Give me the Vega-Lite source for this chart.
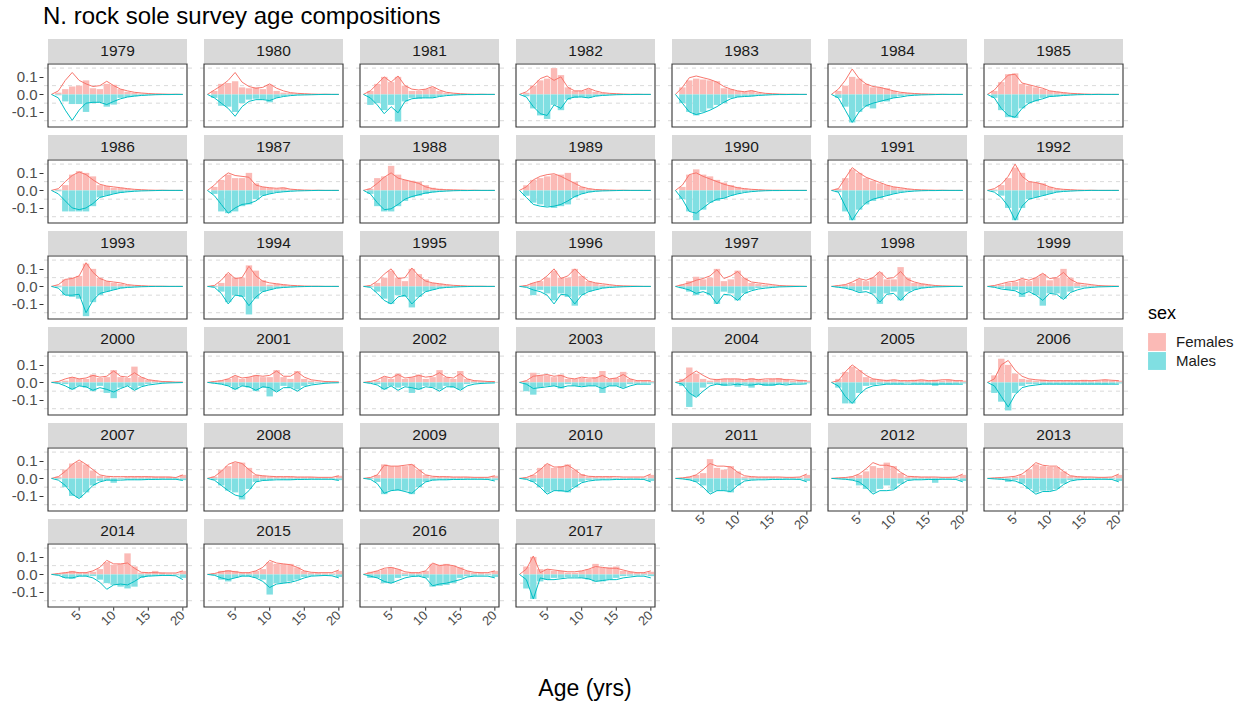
{
"$schema":"https://vega.github.io/schema/vega-lite/v6.json",
"background":"white",
"padding":{"left":11,"top":5,"right":5,"bottom":5},
"bounds":"flush",
"title":{"text":"N. rock sole survey age compositions","anchor":"start","frame":"group","fontSize":24,"fontWeight":"normal","color":"#000000","offset":9},
"data":{"values":[
{"yr":1979,"a":1,"F":0,"M":0,"pf":0,"pm":0},
{"yr":1979,"a":2,"F":0.01,"M":-0.005,"pf":0.02,"pm":-0.02},
{"yr":1979,"a":3,"F":0.03,"M":-0.04,"pf":0.08,"pm":-0.09},
{"yr":1979,"a":4,"F":0.045,"M":-0.055,"pf":0.125,"pm":-0.148},
{"yr":1979,"a":5,"F":0.05,"M":-0.055,"pf":0.08,"pm":-0.09},
{"yr":1979,"a":6,"F":0.08,"M":-0.1,"pf":0.06,"pm":-0.05},
{"yr":1979,"a":7,"F":0.035,"M":-0.05,"pf":0.045,"pm":-0.045},
{"yr":1979,"a":8,"F":0.03,"M":-0.045,"pf":0.05,"pm":-0.045},
{"yr":1979,"a":9,"F":0.06,"M":-0.07,"pf":0.075,"pm":-0.058},
{"yr":1979,"a":10,"F":0.055,"M":-0.058,"pf":0.05,"pm":-0.04},
{"yr":1979,"a":11,"F":0.03,"M":-0.02,"pf":0.03,"pm":-0.025},
{"yr":1979,"a":12,"F":0.015,"M":-0.015,"pf":0.02,"pm":-0.015},
{"yr":1979,"a":13,"F":0.01,"M":-0.01,"pf":0.012,"pm":-0.01},
{"yr":1979,"a":14,"F":0.005,"M":-0.005,"pf":0.008,"pm":-0.006},
{"yr":1979,"a":15,"F":0.004,"M":-0.003,"pf":0.005,"pm":-0.004},
{"yr":1979,"a":16,"F":0.002,"M":-0.002,"pf":0.003,"pm":-0.002},
{"yr":1979,"a":17,"F":0.001,"M":-0.001,"pf":0.002,"pm":-0.001},
{"yr":1979,"a":18,"F":0.001,"M":0,"pf":0.001,"pm":-0.001},
{"yr":1979,"a":19,"F":0,"M":0,"pf":0.001,"pm":0},
{"yr":1979,"a":20,"F":0,"M":0,"pf":0,"pm":0},
{"yr":1980,"a":1,"F":0,"M":0,"pf":0,"pm":0},
{"yr":1980,"a":2,"F":0.02,"M":-0.02,"pf":0.025,"pm":-0.02},
{"yr":1980,"a":3,"F":0.06,"M":-0.065,"pf":0.05,"pm":-0.05},
{"yr":1980,"a":4,"F":0.065,"M":-0.07,"pf":0.08,"pm":-0.08},
{"yr":1980,"a":5,"F":0.075,"M":-0.1,"pf":0.125,"pm":-0.125},
{"yr":1980,"a":6,"F":0.04,"M":-0.05,"pf":0.07,"pm":-0.07},
{"yr":1980,"a":7,"F":0.035,"M":-0.03,"pf":0.045,"pm":-0.04},
{"yr":1980,"a":8,"F":0.04,"M":-0.025,"pf":0.035,"pm":-0.03},
{"yr":1980,"a":9,"F":0.03,"M":-0.03,"pf":0.04,"pm":-0.03},
{"yr":1980,"a":10,"F":0.055,"M":-0.045,"pf":0.06,"pm":-0.035},
{"yr":1980,"a":11,"F":0.02,"M":-0.02,"pf":0.035,"pm":-0.02},
{"yr":1980,"a":12,"F":0.01,"M":-0.01,"pf":0.02,"pm":-0.012},
{"yr":1980,"a":13,"F":0.008,"M":-0.005,"pf":0.01,"pm":-0.007},
{"yr":1980,"a":14,"F":0.005,"M":-0.003,"pf":0.006,"pm":-0.004},
{"yr":1980,"a":15,"F":0.003,"M":-0.002,"pf":0.004,"pm":-0.003},
{"yr":1980,"a":16,"F":0.002,"M":-0.001,"pf":0.002,"pm":-0.002},
{"yr":1980,"a":17,"F":0.001,"M":0,"pf":0.001,"pm":-0.001},
{"yr":1980,"a":18,"F":0,"M":0,"pf":0.001,"pm":0},
{"yr":1980,"a":19,"F":0,"M":0,"pf":0,"pm":0},
{"yr":1980,"a":20,"F":0,"M":0,"pf":0,"pm":0},
{"yr":1981,"a":1,"F":0,"M":0,"pf":0,"pm":0},
{"yr":1981,"a":2,"F":0.02,"M":-0.06,"pf":0.02,"pm":-0.02},
{"yr":1981,"a":3,"F":0.06,"M":-0.05,"pf":0.06,"pm":-0.06},
{"yr":1981,"a":4,"F":0.1,"M":-0.09,"pf":0.1,"pm":-0.11},
{"yr":1981,"a":5,"F":0.07,"M":-0.06,"pf":0.07,"pm":-0.07},
{"yr":1981,"a":6,"F":0.1,"M":-0.155,"pf":0.105,"pm":-0.105},
{"yr":1981,"a":7,"F":0.05,"M":-0.04,"pf":0.05,"pm":-0.04},
{"yr":1981,"a":8,"F":0.02,"M":-0.02,"pf":0.03,"pm":-0.025},
{"yr":1981,"a":9,"F":0.02,"M":-0.025,"pf":0.025,"pm":-0.02},
{"yr":1981,"a":10,"F":0.03,"M":-0.02,"pf":0.03,"pm":-0.02},
{"yr":1981,"a":11,"F":0.04,"M":-0.02,"pf":0.045,"pm":-0.02},
{"yr":1981,"a":12,"F":0.02,"M":-0.01,"pf":0.025,"pm":-0.012},
{"yr":1981,"a":13,"F":0.01,"M":-0.005,"pf":0.012,"pm":-0.007},
{"yr":1981,"a":14,"F":0.005,"M":-0.003,"pf":0.007,"pm":-0.004},
{"yr":1981,"a":15,"F":0.003,"M":-0.002,"pf":0.004,"pm":-0.002},
{"yr":1981,"a":16,"F":0.002,"M":-0.001,"pf":0.002,"pm":-0.001},
{"yr":1981,"a":17,"F":0.001,"M":0,"pf":0.001,"pm":-0.001},
{"yr":1981,"a":18,"F":0,"M":0,"pf":0.001,"pm":0},
{"yr":1981,"a":19,"F":0,"M":0,"pf":0,"pm":0},
{"yr":1981,"a":20,"F":0,"M":0,"pf":0,"pm":0},
{"yr":1982,"a":1,"F":0,"M":0,"pf":0,"pm":0},
{"yr":1982,"a":2,"F":0.01,"M":-0.01,"pf":0.015,"pm":-0.015},
{"yr":1982,"a":3,"F":0.05,"M":-0.08,"pf":0.05,"pm":-0.07},
{"yr":1982,"a":4,"F":0.08,"M":-0.12,"pf":0.09,"pm":-0.11},
{"yr":1982,"a":5,"F":0.09,"M":-0.14,"pf":0.105,"pm":-0.12},
{"yr":1982,"a":6,"F":0.15,"M":-0.06,"pf":0.08,"pm":-0.06},
{"yr":1982,"a":7,"F":0.11,"M":-0.09,"pf":0.1,"pm":-0.08},
{"yr":1982,"a":8,"F":0.04,"M":-0.03,"pf":0.04,"pm":-0.025},
{"yr":1982,"a":9,"F":0.02,"M":-0.02,"pf":0.02,"pm":-0.015},
{"yr":1982,"a":10,"F":0.02,"M":-0.015,"pf":0.02,"pm":-0.015},
{"yr":1982,"a":11,"F":0.03,"M":-0.02,"pf":0.035,"pm":-0.02},
{"yr":1982,"a":12,"F":0.015,"M":-0.01,"pf":0.02,"pm":-0.01},
{"yr":1982,"a":13,"F":0.008,"M":-0.005,"pf":0.01,"pm":-0.006},
{"yr":1982,"a":14,"F":0.005,"M":-0.003,"pf":0.006,"pm":-0.004},
{"yr":1982,"a":15,"F":0.003,"M":-0.002,"pf":0.004,"pm":-0.002},
{"yr":1982,"a":16,"F":0.002,"M":-0.001,"pf":0.002,"pm":-0.001},
{"yr":1982,"a":17,"F":0.001,"M":0,"pf":0.001,"pm":-0.001},
{"yr":1982,"a":18,"F":0,"M":0,"pf":0.001,"pm":0},
{"yr":1982,"a":19,"F":0,"M":0,"pf":0,"pm":0},
{"yr":1982,"a":20,"F":0,"M":0,"pf":0,"pm":0},
{"yr":1983,"a":1,"F":0,"M":0,"pf":0,"pm":0},
{"yr":1983,"a":2,"F":0.04,"M":-0.05,"pf":0.04,"pm":-0.05},
{"yr":1983,"a":3,"F":0.08,"M":-0.1,"pf":0.095,"pm":-0.1},
{"yr":1983,"a":4,"F":0.09,"M":-0.12,"pf":0.105,"pm":-0.115},
{"yr":1983,"a":5,"F":0.085,"M":-0.1,"pf":0.095,"pm":-0.105},
{"yr":1983,"a":6,"F":0.08,"M":-0.08,"pf":0.085,"pm":-0.09},
{"yr":1983,"a":7,"F":0.075,"M":-0.06,"pf":0.07,"pm":-0.07},
{"yr":1983,"a":8,"F":0.035,"M":-0.05,"pf":0.045,"pm":-0.045},
{"yr":1983,"a":9,"F":0.03,"M":-0.02,"pf":0.03,"pm":-0.025},
{"yr":1983,"a":10,"F":0.02,"M":-0.015,"pf":0.02,"pm":-0.015},
{"yr":1983,"a":11,"F":0.015,"M":-0.01,"pf":0.015,"pm":-0.012},
{"yr":1983,"a":12,"F":0.02,"M":-0.01,"pf":0.022,"pm":-0.01},
{"yr":1983,"a":13,"F":0.01,"M":-0.005,"pf":0.012,"pm":-0.006},
{"yr":1983,"a":14,"F":0.005,"M":-0.003,"pf":0.006,"pm":-0.004},
{"yr":1983,"a":15,"F":0.003,"M":-0.002,"pf":0.004,"pm":-0.002},
{"yr":1983,"a":16,"F":0.002,"M":-0.001,"pf":0.002,"pm":-0.001},
{"yr":1983,"a":17,"F":0.001,"M":0,"pf":0.001,"pm":-0.001},
{"yr":1983,"a":18,"F":0,"M":0,"pf":0.001,"pm":0},
{"yr":1983,"a":19,"F":0,"M":0,"pf":0,"pm":0},
{"yr":1983,"a":20,"F":0,"M":0,"pf":0,"pm":0},
{"yr":1984,"a":1,"F":0,"M":0,"pf":0,"pm":0},
{"yr":1984,"a":2,"F":0.02,"M":-0.02,"pf":0.03,"pm":-0.02},
{"yr":1984,"a":3,"F":0.05,"M":-0.07,"pf":0.08,"pm":-0.09},
{"yr":1984,"a":4,"F":0.1,"M":-0.16,"pf":0.145,"pm":-0.16},
{"yr":1984,"a":5,"F":0.09,"M":-0.1,"pf":0.09,"pm":-0.1},
{"yr":1984,"a":6,"F":0.06,"M":-0.07,"pf":0.06,"pm":-0.065},
{"yr":1984,"a":7,"F":0.04,"M":-0.08,"pf":0.045,"pm":-0.05},
{"yr":1984,"a":8,"F":0.04,"M":-0.04,"pf":0.04,"pm":-0.04},
{"yr":1984,"a":9,"F":0.035,"M":-0.04,"pf":0.03,"pm":-0.03},
{"yr":1984,"a":10,"F":0.02,"M":-0.02,"pf":0.02,"pm":-0.02},
{"yr":1984,"a":11,"F":0.01,"M":-0.01,"pf":0.012,"pm":-0.015},
{"yr":1984,"a":12,"F":0.008,"M":-0.006,"pf":0.008,"pm":-0.008},
{"yr":1984,"a":13,"F":0.005,"M":-0.004,"pf":0.005,"pm":-0.005},
{"yr":1984,"a":14,"F":0.003,"M":-0.002,"pf":0.003,"pm":-0.003},
{"yr":1984,"a":15,"F":0.002,"M":-0.001,"pf":0.002,"pm":-0.002},
{"yr":1984,"a":16,"F":0.001,"M":0,"pf":0.001,"pm":-0.001},
{"yr":1984,"a":17,"F":0,"M":0,"pf":0.001,"pm":0},
{"yr":1984,"a":18,"F":0,"M":0,"pf":0,"pm":0},
{"yr":1984,"a":19,"F":0,"M":0,"pf":0,"pm":0},
{"yr":1984,"a":20,"F":0,"M":0,"pf":0,"pm":0},
{"yr":1985,"a":1,"F":0,"M":0,"pf":0,"pm":0},
{"yr":1985,"a":2,"F":0.02,"M":-0.02,"pf":0.025,"pm":-0.02},
{"yr":1985,"a":3,"F":0.07,"M":-0.09,"pf":0.07,"pm":-0.08},
{"yr":1985,"a":4,"F":0.115,"M":-0.13,"pf":0.11,"pm":-0.12},
{"yr":1985,"a":5,"F":0.12,"M":-0.135,"pf":0.115,"pm":-0.13},
{"yr":1985,"a":6,"F":0.06,"M":-0.08,"pf":0.065,"pm":-0.08},
{"yr":1985,"a":7,"F":0.05,"M":-0.05,"pf":0.055,"pm":-0.05},
{"yr":1985,"a":8,"F":0.04,"M":-0.04,"pf":0.045,"pm":-0.035},
{"yr":1985,"a":9,"F":0.03,"M":-0.02,"pf":0.035,"pm":-0.025},
{"yr":1985,"a":10,"F":0.02,"M":-0.015,"pf":0.02,"pm":-0.012},
{"yr":1985,"a":11,"F":0.015,"M":-0.01,"pf":0.015,"pm":-0.01},
{"yr":1985,"a":12,"F":0.01,"M":-0.006,"pf":0.01,"pm":-0.006},
{"yr":1985,"a":13,"F":0.006,"M":-0.003,"pf":0.006,"pm":-0.004},
{"yr":1985,"a":14,"F":0.004,"M":-0.002,"pf":0.004,"pm":-0.002},
{"yr":1985,"a":15,"F":0.002,"M":-0.001,"pf":0.002,"pm":-0.001},
{"yr":1985,"a":16,"F":0.001,"M":0,"pf":0.001,"pm":-0.001},
{"yr":1985,"a":17,"F":0,"M":0,"pf":0.001,"pm":0},
{"yr":1985,"a":18,"F":0,"M":0,"pf":0,"pm":0},
{"yr":1985,"a":19,"F":0,"M":0,"pf":0,"pm":0},
{"yr":1985,"a":20,"F":0,"M":0,"pf":0,"pm":0},
{"yr":1986,"a":1,"F":0,"M":0,"pf":0,"pm":0},
{"yr":1986,"a":2,"F":0.005,"M":-0.005,"pf":0.01,"pm":-0.02},
{"yr":1986,"a":3,"F":0.03,"M":-0.12,"pf":0.05,"pm":-0.06},
{"yr":1986,"a":4,"F":0.09,"M":-0.12,"pf":0.085,"pm":-0.1},
{"yr":1986,"a":5,"F":0.11,"M":-0.12,"pf":0.105,"pm":-0.11},
{"yr":1986,"a":6,"F":0.1,"M":-0.12,"pf":0.09,"pm":-0.1},
{"yr":1986,"a":7,"F":0.08,"M":-0.09,"pf":0.06,"pm":-0.075},
{"yr":1986,"a":8,"F":0.03,"M":-0.04,"pf":0.035,"pm":-0.04},
{"yr":1986,"a":9,"F":0.025,"M":-0.03,"pf":0.025,"pm":-0.03},
{"yr":1986,"a":10,"F":0.015,"M":-0.02,"pf":0.02,"pm":-0.02},
{"yr":1986,"a":11,"F":0.015,"M":-0.015,"pf":0.015,"pm":-0.012},
{"yr":1986,"a":12,"F":0.01,"M":-0.008,"pf":0.01,"pm":-0.008},
{"yr":1986,"a":13,"F":0.005,"M":-0.004,"pf":0.006,"pm":-0.005},
{"yr":1986,"a":14,"F":0.003,"M":-0.002,"pf":0.004,"pm":-0.003},
{"yr":1986,"a":15,"F":0.002,"M":-0.001,"pf":0.002,"pm":-0.002},
{"yr":1986,"a":16,"F":0.001,"M":0,"pf":0.001,"pm":-0.001},
{"yr":1986,"a":17,"F":0,"M":0,"pf":0.001,"pm":0},
{"yr":1986,"a":18,"F":0,"M":0,"pf":0,"pm":0},
{"yr":1986,"a":19,"F":0,"M":0,"pf":0,"pm":0},
{"yr":1986,"a":20,"F":0,"M":0,"pf":0,"pm":0},
{"yr":1987,"a":1,"F":0,"M":0,"pf":0,"pm":0},
{"yr":1987,"a":2,"F":0.02,"M":-0.02,"pf":0.03,"pm":-0.03},
{"yr":1987,"a":3,"F":0.06,"M":-0.12,"pf":0.07,"pm":-0.08},
{"yr":1987,"a":4,"F":0.09,"M":-0.13,"pf":0.1,"pm":-0.13},
{"yr":1987,"a":5,"F":0.07,"M":-0.12,"pf":0.085,"pm":-0.1},
{"yr":1987,"a":6,"F":0.07,"M":-0.09,"pf":0.08,"pm":-0.08},
{"yr":1987,"a":7,"F":0.1,"M":-0.08,"pf":0.075,"pm":-0.075},
{"yr":1987,"a":8,"F":0.04,"M":-0.05,"pf":0.03,"pm":-0.06},
{"yr":1987,"a":9,"F":0.02,"M":-0.03,"pf":0.02,"pm":-0.03},
{"yr":1987,"a":10,"F":0.015,"M":-0.02,"pf":0.015,"pm":-0.02},
{"yr":1987,"a":11,"F":0.01,"M":-0.01,"pf":0.012,"pm":-0.012},
{"yr":1987,"a":12,"F":0.015,"M":-0.008,"pf":0.015,"pm":-0.008},
{"yr":1987,"a":13,"F":0.006,"M":-0.004,"pf":0.007,"pm":-0.005},
{"yr":1987,"a":14,"F":0.004,"M":-0.002,"pf":0.004,"pm":-0.003},
{"yr":1987,"a":15,"F":0.002,"M":-0.001,"pf":0.002,"pm":-0.002},
{"yr":1987,"a":16,"F":0.001,"M":0,"pf":0.001,"pm":-0.001},
{"yr":1987,"a":17,"F":0,"M":0,"pf":0.001,"pm":0},
{"yr":1987,"a":18,"F":0,"M":0,"pf":0,"pm":0},
{"yr":1987,"a":19,"F":0,"M":0,"pf":0,"pm":0},
{"yr":1987,"a":20,"F":0,"M":0,"pf":0,"pm":0},
{"yr":1988,"a":1,"F":0,"M":0,"pf":0,"pm":0},
{"yr":1988,"a":2,"F":0.01,"M":-0.02,"pf":0.01,"pm":-0.02},
{"yr":1988,"a":3,"F":0.07,"M":-0.09,"pf":0.04,"pm":-0.07},
{"yr":1988,"a":4,"F":0.08,"M":-0.12,"pf":0.075,"pm":-0.11},
{"yr":1988,"a":5,"F":0.14,"M":-0.12,"pf":0.1,"pm":-0.105},
{"yr":1988,"a":6,"F":0.09,"M":-0.09,"pf":0.07,"pm":-0.08},
{"yr":1988,"a":7,"F":0.06,"M":-0.06,"pf":0.06,"pm":-0.05},
{"yr":1988,"a":8,"F":0.055,"M":-0.04,"pf":0.05,"pm":-0.035},
{"yr":1988,"a":9,"F":0.05,"M":-0.03,"pf":0.04,"pm":-0.025},
{"yr":1988,"a":10,"F":0.03,"M":-0.02,"pf":0.02,"pm":-0.015},
{"yr":1988,"a":11,"F":0.015,"M":-0.01,"pf":0.01,"pm":-0.01},
{"yr":1988,"a":12,"F":0.01,"M":-0.006,"pf":0.005,"pm":-0.006},
{"yr":1988,"a":13,"F":0.005,"M":-0.003,"pf":0.004,"pm":-0.004},
{"yr":1988,"a":14,"F":0.003,"M":-0.002,"pf":0.003,"pm":-0.002},
{"yr":1988,"a":15,"F":0.002,"M":-0.001,"pf":0.002,"pm":-0.001},
{"yr":1988,"a":16,"F":0.001,"M":0,"pf":0.001,"pm":-0.001},
{"yr":1988,"a":17,"F":0,"M":0,"pf":0.001,"pm":0},
{"yr":1988,"a":18,"F":0,"M":0,"pf":0,"pm":0},
{"yr":1988,"a":19,"F":0,"M":0,"pf":0,"pm":0},
{"yr":1988,"a":20,"F":0,"M":0,"pf":0,"pm":0},
{"yr":1989,"a":1,"F":0,"M":0,"pf":0,"pm":0},
{"yr":1989,"a":2,"F":0.03,"M":-0.03,"pf":0.02,"pm":-0.04},
{"yr":1989,"a":3,"F":0.06,"M":-0.07,"pf":0.06,"pm":-0.08},
{"yr":1989,"a":4,"F":0.07,"M":-0.08,"pf":0.08,"pm":-0.09},
{"yr":1989,"a":5,"F":0.08,"M":-0.09,"pf":0.09,"pm":-0.095},
{"yr":1989,"a":6,"F":0.09,"M":-0.1,"pf":0.095,"pm":-0.09},
{"yr":1989,"a":7,"F":0.09,"M":-0.09,"pf":0.08,"pm":-0.08},
{"yr":1989,"a":8,"F":0.1,"M":-0.08,"pf":0.06,"pm":-0.06},
{"yr":1989,"a":9,"F":0.05,"M":-0.04,"pf":0.04,"pm":-0.035},
{"yr":1989,"a":10,"F":0.02,"M":-0.02,"pf":0.02,"pm":-0.02},
{"yr":1989,"a":11,"F":0.01,"M":-0.01,"pf":0.01,"pm":-0.01},
{"yr":1989,"a":12,"F":0.006,"M":-0.005,"pf":0.005,"pm":-0.005},
{"yr":1989,"a":13,"F":0.004,"M":-0.003,"pf":0.003,"pm":-0.003},
{"yr":1989,"a":14,"F":0.002,"M":-0.002,"pf":0.002,"pm":-0.002},
{"yr":1989,"a":15,"F":0.001,"M":-0.001,"pf":0.001,"pm":-0.001},
{"yr":1989,"a":16,"F":0,"M":0,"pf":0.001,"pm":0},
{"yr":1989,"a":17,"F":0,"M":0,"pf":0,"pm":0},
{"yr":1989,"a":18,"F":0,"M":0,"pf":0,"pm":0},
{"yr":1989,"a":19,"F":0,"M":0,"pf":0,"pm":0},
{"yr":1989,"a":20,"F":0,"M":0,"pf":0,"pm":0},
{"yr":1990,"a":1,"F":0,"M":0,"pf":0,"pm":0},
{"yr":1990,"a":2,"F":0.02,"M":-0.05,"pf":0.03,"pm":-0.05},
{"yr":1990,"a":3,"F":0.09,"M":-0.12,"pf":0.09,"pm":-0.12},
{"yr":1990,"a":4,"F":0.12,"M":-0.17,"pf":0.1,"pm":-0.13},
{"yr":1990,"a":5,"F":0.09,"M":-0.11,"pf":0.08,"pm":-0.1},
{"yr":1990,"a":6,"F":0.08,"M":-0.07,"pf":0.065,"pm":-0.07},
{"yr":1990,"a":7,"F":0.06,"M":-0.06,"pf":0.05,"pm":-0.05},
{"yr":1990,"a":8,"F":0.045,"M":-0.045,"pf":0.035,"pm":-0.045},
{"yr":1990,"a":9,"F":0.03,"M":-0.03,"pf":0.025,"pm":-0.03},
{"yr":1990,"a":10,"F":0.02,"M":-0.02,"pf":0.015,"pm":-0.02},
{"yr":1990,"a":11,"F":0.01,"M":-0.01,"pf":0.01,"pm":-0.012},
{"yr":1990,"a":12,"F":0.006,"M":-0.006,"pf":0.006,"pm":-0.007},
{"yr":1990,"a":13,"F":0.004,"M":-0.003,"pf":0.004,"pm":-0.004},
{"yr":1990,"a":14,"F":0.002,"M":-0.002,"pf":0.002,"pm":-0.002},
{"yr":1990,"a":15,"F":0.001,"M":-0.001,"pf":0.001,"pm":-0.001},
{"yr":1990,"a":16,"F":0,"M":0,"pf":0.001,"pm":-0.001},
{"yr":1990,"a":17,"F":0,"M":0,"pf":0,"pm":0},
{"yr":1990,"a":18,"F":0,"M":0,"pf":0,"pm":0},
{"yr":1990,"a":19,"F":0,"M":0,"pf":0,"pm":0},
{"yr":1990,"a":20,"F":0,"M":0,"pf":0,"pm":0},
{"yr":1991,"a":1,"F":0,"M":0,"pf":0,"pm":0},
{"yr":1991,"a":2,"F":0.01,"M":-0.01,"pf":0.01,"pm":-0.01},
{"yr":1991,"a":3,"F":0.07,"M":-0.12,"pf":0.07,"pm":-0.09},
{"yr":1991,"a":4,"F":0.12,"M":-0.17,"pf":0.13,"pm":-0.17},
{"yr":1991,"a":5,"F":0.1,"M":-0.11,"pf":0.1,"pm":-0.11},
{"yr":1991,"a":6,"F":0.07,"M":-0.08,"pf":0.075,"pm":-0.07},
{"yr":1991,"a":7,"F":0.055,"M":-0.06,"pf":0.06,"pm":-0.05},
{"yr":1991,"a":8,"F":0.04,"M":-0.045,"pf":0.045,"pm":-0.04},
{"yr":1991,"a":9,"F":0.03,"M":-0.03,"pf":0.03,"pm":-0.03},
{"yr":1991,"a":10,"F":0.02,"M":-0.02,"pf":0.02,"pm":-0.02},
{"yr":1991,"a":11,"F":0.012,"M":-0.01,"pf":0.015,"pm":-0.012},
{"yr":1991,"a":12,"F":0.008,"M":-0.006,"pf":0.009,"pm":-0.007},
{"yr":1991,"a":13,"F":0.005,"M":-0.003,"pf":0.005,"pm":-0.004},
{"yr":1991,"a":14,"F":0.003,"M":-0.002,"pf":0.003,"pm":-0.002},
{"yr":1991,"a":15,"F":0.002,"M":-0.001,"pf":0.002,"pm":-0.001},
{"yr":1991,"a":16,"F":0.001,"M":0,"pf":0.001,"pm":-0.001},
{"yr":1991,"a":17,"F":0,"M":0,"pf":0.001,"pm":0},
{"yr":1991,"a":18,"F":0,"M":0,"pf":0,"pm":0},
{"yr":1991,"a":19,"F":0,"M":0,"pf":0,"pm":0},
{"yr":1991,"a":20,"F":0,"M":0,"pf":0,"pm":0},
{"yr":1992,"a":1,"F":0,"M":0,"pf":0,"pm":0},
{"yr":1992,"a":2,"F":0.005,"M":-0.005,"pf":0.01,"pm":-0.01},
{"yr":1992,"a":3,"F":0.03,"M":-0.03,"pf":0.035,"pm":-0.04},
{"yr":1992,"a":4,"F":0.07,"M":-0.1,"pf":0.08,"pm":-0.09},
{"yr":1992,"a":5,"F":0.13,"M":-0.17,"pf":0.15,"pm":-0.17},
{"yr":1992,"a":6,"F":0.1,"M":-0.1,"pf":0.08,"pm":-0.09},
{"yr":1992,"a":7,"F":0.05,"M":-0.05,"pf":0.05,"pm":-0.05},
{"yr":1992,"a":8,"F":0.045,"M":-0.04,"pf":0.045,"pm":-0.04},
{"yr":1992,"a":9,"F":0.04,"M":-0.03,"pf":0.035,"pm":-0.03},
{"yr":1992,"a":10,"F":0.02,"M":-0.02,"pf":0.02,"pm":-0.02},
{"yr":1992,"a":11,"F":0.01,"M":-0.01,"pf":0.01,"pm":-0.01},
{"yr":1992,"a":12,"F":0.006,"M":-0.005,"pf":0.006,"pm":-0.006},
{"yr":1992,"a":13,"F":0.004,"M":-0.003,"pf":0.004,"pm":-0.004},
{"yr":1992,"a":14,"F":0.002,"M":-0.002,"pf":0.002,"pm":-0.002},
{"yr":1992,"a":15,"F":0.001,"M":-0.001,"pf":0.001,"pm":-0.001},
{"yr":1992,"a":16,"F":0,"M":0,"pf":0.001,"pm":0},
{"yr":1992,"a":17,"F":0,"M":0,"pf":0,"pm":0},
{"yr":1992,"a":18,"F":0,"M":0,"pf":0,"pm":0},
{"yr":1992,"a":19,"F":0,"M":0,"pf":0,"pm":0},
{"yr":1992,"a":20,"F":0,"M":0,"pf":0,"pm":0},
{"yr":1993,"a":1,"F":0,"M":0,"pf":0,"pm":0},
{"yr":1993,"a":2,"F":0.005,"M":-0.005,"pf":0.01,"pm":-0.01},
{"yr":1993,"a":3,"F":0.04,"M":-0.05,"pf":0.04,"pm":-0.05},
{"yr":1993,"a":4,"F":0.05,"M":-0.06,"pf":0.045,"pm":-0.05},
{"yr":1993,"a":5,"F":0.06,"M":-0.07,"pf":0.06,"pm":-0.045},
{"yr":1993,"a":6,"F":0.13,"M":-0.17,"pf":0.135,"pm":-0.15},
{"yr":1993,"a":7,"F":0.1,"M":-0.09,"pf":0.08,"pm":-0.08},
{"yr":1993,"a":8,"F":0.05,"M":-0.05,"pf":0.045,"pm":-0.04},
{"yr":1993,"a":9,"F":0.03,"M":-0.03,"pf":0.03,"pm":-0.03},
{"yr":1993,"a":10,"F":0.02,"M":-0.02,"pf":0.025,"pm":-0.02},
{"yr":1993,"a":11,"F":0.015,"M":-0.01,"pf":0.02,"pm":-0.01},
{"yr":1993,"a":12,"F":0.008,"M":-0.005,"pf":0.01,"pm":-0.006},
{"yr":1993,"a":13,"F":0.005,"M":-0.003,"pf":0.006,"pm":-0.004},
{"yr":1993,"a":14,"F":0.003,"M":-0.002,"pf":0.004,"pm":-0.002},
{"yr":1993,"a":15,"F":0.002,"M":-0.001,"pf":0.002,"pm":-0.001},
{"yr":1993,"a":16,"F":0.001,"M":0,"pf":0.001,"pm":0},
{"yr":1993,"a":17,"F":0,"M":0,"pf":0.001,"pm":0},
{"yr":1993,"a":18,"F":0,"M":0,"pf":0,"pm":0},
{"yr":1993,"a":19,"F":0,"M":0,"pf":0,"pm":0},
{"yr":1993,"a":20,"F":0,"M":0,"pf":0,"pm":0},
{"yr":1994,"a":1,"F":0,"M":0,"pf":0,"pm":0},
{"yr":1994,"a":2,"F":0.005,"M":-0.005,"pf":0.005,"pm":-0.005},
{"yr":1994,"a":3,"F":0.02,"M":-0.03,"pf":0.035,"pm":-0.04},
{"yr":1994,"a":4,"F":0.07,"M":-0.09,"pf":0.08,"pm":-0.1},
{"yr":1994,"a":5,"F":0.05,"M":-0.05,"pf":0.045,"pm":-0.05},
{"yr":1994,"a":6,"F":0.05,"M":-0.06,"pf":0.05,"pm":-0.055},
{"yr":1994,"a":7,"F":0.12,"M":-0.16,"pf":0.115,"pm":-0.11},
{"yr":1994,"a":8,"F":0.09,"M":-0.07,"pf":0.06,"pm":-0.06},
{"yr":1994,"a":9,"F":0.035,"M":-0.03,"pf":0.03,"pm":-0.03},
{"yr":1994,"a":10,"F":0.01,"M":-0.02,"pf":0.02,"pm":-0.02},
{"yr":1994,"a":11,"F":0.015,"M":-0.01,"pf":0.015,"pm":-0.01},
{"yr":1994,"a":12,"F":0.01,"M":-0.006,"pf":0.01,"pm":-0.006},
{"yr":1994,"a":13,"F":0.005,"M":-0.003,"pf":0.006,"pm":-0.004},
{"yr":1994,"a":14,"F":0.003,"M":-0.002,"pf":0.004,"pm":-0.002},
{"yr":1994,"a":15,"F":0.002,"M":-0.001,"pf":0.002,"pm":-0.001},
{"yr":1994,"a":16,"F":0.001,"M":0,"pf":0.001,"pm":0},
{"yr":1994,"a":17,"F":0,"M":0,"pf":0.001,"pm":0},
{"yr":1994,"a":18,"F":0,"M":0,"pf":0,"pm":0},
{"yr":1994,"a":19,"F":0,"M":0,"pf":0,"pm":0},
{"yr":1994,"a":20,"F":0,"M":0,"pf":0,"pm":0},
{"yr":1995,"a":1,"F":0,"M":0,"pf":0,"pm":0},
{"yr":1995,"a":2,"F":0.005,"M":-0.005,"pf":0.005,"pm":-0.005},
{"yr":1995,"a":3,"F":0.02,"M":-0.03,"pf":0.03,"pm":-0.04},
{"yr":1995,"a":4,"F":0.05,"M":-0.07,"pf":0.07,"pm":-0.08},
{"yr":1995,"a":5,"F":0.09,"M":-0.1,"pf":0.1,"pm":-0.1},
{"yr":1995,"a":6,"F":0.05,"M":-0.05,"pf":0.045,"pm":-0.06},
{"yr":1995,"a":7,"F":0.03,"M":-0.06,"pf":0.05,"pm":-0.05},
{"yr":1995,"a":8,"F":0.1,"M":-0.12,"pf":0.105,"pm":-0.1},
{"yr":1995,"a":9,"F":0.07,"M":-0.06,"pf":0.06,"pm":-0.06},
{"yr":1995,"a":10,"F":0.04,"M":-0.03,"pf":0.03,"pm":-0.03},
{"yr":1995,"a":11,"F":0.02,"M":-0.02,"pf":0.02,"pm":-0.02},
{"yr":1995,"a":12,"F":0.015,"M":-0.01,"pf":0.015,"pm":-0.01},
{"yr":1995,"a":13,"F":0.008,"M":-0.005,"pf":0.01,"pm":-0.006},
{"yr":1995,"a":14,"F":0.005,"M":-0.003,"pf":0.006,"pm":-0.004},
{"yr":1995,"a":15,"F":0.003,"M":-0.002,"pf":0.004,"pm":-0.002},
{"yr":1995,"a":16,"F":0.002,"M":-0.001,"pf":0.002,"pm":-0.001},
{"yr":1995,"a":17,"F":0.001,"M":0,"pf":0.001,"pm":0},
{"yr":1995,"a":18,"F":0,"M":0,"pf":0.001,"pm":0},
{"yr":1995,"a":19,"F":0,"M":0,"pf":0,"pm":0},
{"yr":1995,"a":20,"F":0,"M":0,"pf":0,"pm":0},
{"yr":1996,"a":1,"F":0,"M":0,"pf":0,"pm":0},
{"yr":1996,"a":2,"F":0.005,"M":-0.005,"pf":0.005,"pm":-0.005},
{"yr":1996,"a":3,"F":0.02,"M":-0.05,"pf":0.02,"pm":-0.02},
{"yr":1996,"a":4,"F":0.03,"M":-0.02,"pf":0.03,"pm":-0.03},
{"yr":1996,"a":5,"F":0.05,"M":-0.04,"pf":0.06,"pm":-0.05},
{"yr":1996,"a":6,"F":0.09,"M":-0.08,"pf":0.1,"pm":-0.1},
{"yr":1996,"a":7,"F":0.05,"M":-0.04,"pf":0.045,"pm":-0.045},
{"yr":1996,"a":8,"F":0.05,"M":-0.06,"pf":0.06,"pm":-0.05},
{"yr":1996,"a":9,"F":0.1,"M":-0.11,"pf":0.1,"pm":-0.1},
{"yr":1996,"a":10,"F":0.06,"M":-0.05,"pf":0.06,"pm":-0.05},
{"yr":1996,"a":11,"F":0.03,"M":-0.03,"pf":0.03,"pm":-0.03},
{"yr":1996,"a":12,"F":0.02,"M":-0.02,"pf":0.02,"pm":-0.02},
{"yr":1996,"a":13,"F":0.01,"M":-0.01,"pf":0.015,"pm":-0.01},
{"yr":1996,"a":14,"F":0.006,"M":-0.005,"pf":0.01,"pm":-0.006},
{"yr":1996,"a":15,"F":0.004,"M":-0.003,"pf":0.005,"pm":-0.004},
{"yr":1996,"a":16,"F":0.002,"M":-0.002,"pf":0.003,"pm":-0.002},
{"yr":1996,"a":17,"F":0.001,"M":-0.001,"pf":0.002,"pm":-0.001},
{"yr":1996,"a":18,"F":0,"M":0,"pf":0.001,"pm":0},
{"yr":1996,"a":19,"F":0,"M":0,"pf":0,"pm":0},
{"yr":1996,"a":20,"F":0,"M":0,"pf":0,"pm":0},
{"yr":1997,"a":1,"F":0,"M":0,"pf":0,"pm":0},
{"yr":1997,"a":2,"F":0.01,"M":-0.01,"pf":0.01,"pm":-0.01},
{"yr":1997,"a":3,"F":0.03,"M":-0.03,"pf":0.02,"pm":-0.02},
{"yr":1997,"a":4,"F":0.055,"M":-0.05,"pf":0.035,"pm":-0.04},
{"yr":1997,"a":5,"F":0.04,"M":-0.02,"pf":0.045,"pm":-0.03},
{"yr":1997,"a":6,"F":0.05,"M":-0.05,"pf":0.06,"pm":-0.045},
{"yr":1997,"a":7,"F":0.1,"M":-0.1,"pf":0.095,"pm":-0.1},
{"yr":1997,"a":8,"F":0.03,"M":-0.03,"pf":0.045,"pm":-0.045},
{"yr":1997,"a":9,"F":0.04,"M":-0.04,"pf":0.06,"pm":-0.05},
{"yr":1997,"a":10,"F":0.09,"M":-0.08,"pf":0.085,"pm":-0.08},
{"yr":1997,"a":11,"F":0.05,"M":-0.04,"pf":0.045,"pm":-0.04},
{"yr":1997,"a":12,"F":0.02,"M":-0.02,"pf":0.025,"pm":-0.025},
{"yr":1997,"a":13,"F":0.015,"M":-0.01,"pf":0.02,"pm":-0.015},
{"yr":1997,"a":14,"F":0.01,"M":-0.006,"pf":0.015,"pm":-0.01},
{"yr":1997,"a":15,"F":0.006,"M":-0.004,"pf":0.01,"pm":-0.006},
{"yr":1997,"a":16,"F":0.003,"M":-0.002,"pf":0.005,"pm":-0.003},
{"yr":1997,"a":17,"F":0.002,"M":-0.001,"pf":0.003,"pm":-0.002},
{"yr":1997,"a":18,"F":0.001,"M":0,"pf":0.002,"pm":-0.001},
{"yr":1997,"a":19,"F":0,"M":0,"pf":0.001,"pm":0},
{"yr":1997,"a":20,"F":0,"M":0,"pf":0,"pm":0},
{"yr":1998,"a":1,"F":0,"M":0,"pf":0,"pm":0},
{"yr":1998,"a":2,"F":0.005,"M":-0.005,"pf":0.005,"pm":-0.005},
{"yr":1998,"a":3,"F":0.01,"M":-0.01,"pf":0.01,"pm":-0.01},
{"yr":1998,"a":4,"F":0.02,"M":-0.02,"pf":0.025,"pm":-0.02},
{"yr":1998,"a":5,"F":0.04,"M":-0.03,"pf":0.045,"pm":-0.035},
{"yr":1998,"a":6,"F":0.03,"M":-0.02,"pf":0.035,"pm":-0.03},
{"yr":1998,"a":7,"F":0.05,"M":-0.04,"pf":0.05,"pm":-0.045},
{"yr":1998,"a":8,"F":0.08,"M":-0.1,"pf":0.085,"pm":-0.09},
{"yr":1998,"a":9,"F":0.04,"M":-0.04,"pf":0.045,"pm":-0.045},
{"yr":1998,"a":10,"F":0.04,"M":-0.03,"pf":0.05,"pm":-0.04},
{"yr":1998,"a":11,"F":0.11,"M":-0.08,"pf":0.085,"pm":-0.08},
{"yr":1998,"a":12,"F":0.05,"M":-0.03,"pf":0.04,"pm":-0.04},
{"yr":1998,"a":13,"F":0.02,"M":-0.02,"pf":0.025,"pm":-0.02},
{"yr":1998,"a":14,"F":0.015,"M":-0.01,"pf":0.015,"pm":-0.01},
{"yr":1998,"a":15,"F":0.008,"M":-0.005,"pf":0.01,"pm":-0.006},
{"yr":1998,"a":16,"F":0.004,"M":-0.003,"pf":0.005,"pm":-0.003},
{"yr":1998,"a":17,"F":0.002,"M":-0.002,"pf":0.003,"pm":-0.002},
{"yr":1998,"a":18,"F":0.001,"M":0,"pf":0.002,"pm":-0.001},
{"yr":1998,"a":19,"F":0,"M":0,"pf":0.001,"pm":0},
{"yr":1998,"a":20,"F":0,"M":0,"pf":0,"pm":0},
{"yr":1999,"a":1,"F":0,"M":0,"pf":0,"pm":0},
{"yr":1999,"a":2,"F":0.005,"M":-0.005,"pf":0.005,"pm":-0.005},
{"yr":1999,"a":3,"F":0.01,"M":-0.01,"pf":0.015,"pm":-0.015},
{"yr":1999,"a":4,"F":0.02,"M":-0.02,"pf":0.025,"pm":-0.02},
{"yr":1999,"a":5,"F":0.025,"M":-0.02,"pf":0.03,"pm":-0.025},
{"yr":1999,"a":6,"F":0.04,"M":-0.06,"pf":0.045,"pm":-0.045},
{"yr":1999,"a":7,"F":0.03,"M":-0.03,"pf":0.035,"pm":-0.03},
{"yr":1999,"a":8,"F":0.05,"M":-0.05,"pf":0.05,"pm":-0.05},
{"yr":1999,"a":9,"F":0.07,"M":-0.11,"pf":0.075,"pm":-0.08},
{"yr":1999,"a":10,"F":0.035,"M":-0.04,"pf":0.045,"pm":-0.04},
{"yr":1999,"a":11,"F":0.05,"M":-0.04,"pf":0.05,"pm":-0.045},
{"yr":1999,"a":12,"F":0.1,"M":-0.07,"pf":0.08,"pm":-0.075},
{"yr":1999,"a":13,"F":0.05,"M":-0.03,"pf":0.04,"pm":-0.035},
{"yr":1999,"a":14,"F":0.02,"M":-0.01,"pf":0.02,"pm":-0.02},
{"yr":1999,"a":15,"F":0.01,"M":-0.006,"pf":0.015,"pm":-0.01},
{"yr":1999,"a":16,"F":0.006,"M":-0.003,"pf":0.01,"pm":-0.006},
{"yr":1999,"a":17,"F":0.003,"M":-0.002,"pf":0.005,"pm":-0.003},
{"yr":1999,"a":18,"F":0.002,"M":-0.001,"pf":0.003,"pm":-0.002},
{"yr":1999,"a":19,"F":0.001,"M":0,"pf":0.002,"pm":-0.001},
{"yr":1999,"a":20,"F":0,"M":0,"pf":0.001,"pm":0},
{"yr":2000,"a":1,"F":0,"M":0,"pf":0,"pm":0},
{"yr":2000,"a":2,"F":0.005,"M":-0.005,"pf":0.005,"pm":-0.005},
{"yr":2000,"a":3,"F":0.01,"M":-0.01,"pf":0.02,"pm":-0.02},
{"yr":2000,"a":4,"F":0.03,"M":-0.04,"pf":0.03,"pm":-0.04},
{"yr":2000,"a":5,"F":0.02,"M":-0.02,"pf":0.02,"pm":-0.02},
{"yr":2000,"a":6,"F":0.02,"M":-0.03,"pf":0.025,"pm":-0.025},
{"yr":2000,"a":7,"F":0.045,"M":-0.05,"pf":0.04,"pm":-0.045},
{"yr":2000,"a":8,"F":0.025,"M":-0.02,"pf":0.03,"pm":-0.03},
{"yr":2000,"a":9,"F":0.03,"M":-0.06,"pf":0.035,"pm":-0.04},
{"yr":2000,"a":10,"F":0.07,"M":-0.09,"pf":0.065,"pm":-0.055},
{"yr":2000,"a":11,"F":0.03,"M":-0.03,"pf":0.035,"pm":-0.035},
{"yr":2000,"a":12,"F":0.025,"M":-0.02,"pf":0.03,"pm":-0.02},
{"yr":2000,"a":13,"F":0.09,"M":-0.04,"pf":0.055,"pm":-0.045},
{"yr":2000,"a":14,"F":0.03,"M":-0.02,"pf":0.03,"pm":-0.025},
{"yr":2000,"a":15,"F":0.015,"M":-0.01,"pf":0.015,"pm":-0.015},
{"yr":2000,"a":16,"F":0.01,"M":-0.005,"pf":0.01,"pm":-0.01},
{"yr":2000,"a":17,"F":0.005,"M":-0.003,"pf":0.005,"pm":-0.005},
{"yr":2000,"a":18,"F":0.003,"M":-0.002,"pf":0.004,"pm":-0.003},
{"yr":2000,"a":19,"F":0.002,"M":-0.001,"pf":0.002,"pm":-0.002},
{"yr":2000,"a":20,"F":0.001,"M":0,"pf":0.002,"pm":-0.001},
{"yr":2001,"a":1,"F":0,"M":0,"pf":0,"pm":0},
{"yr":2001,"a":2,"F":0.005,"M":-0.005,"pf":0.005,"pm":-0.005},
{"yr":2001,"a":3,"F":0.01,"M":-0.01,"pf":0.01,"pm":-0.01},
{"yr":2001,"a":4,"F":0.02,"M":-0.02,"pf":0.02,"pm":-0.02},
{"yr":2001,"a":5,"F":0.035,"M":-0.04,"pf":0.04,"pm":-0.04},
{"yr":2001,"a":6,"F":0.02,"M":-0.02,"pf":0.025,"pm":-0.02},
{"yr":2001,"a":7,"F":0.03,"M":-0.03,"pf":0.03,"pm":-0.025},
{"yr":2001,"a":8,"F":0.04,"M":-0.05,"pf":0.04,"pm":-0.045},
{"yr":2001,"a":9,"F":0.03,"M":-0.03,"pf":0.035,"pm":-0.025},
{"yr":2001,"a":10,"F":0.03,"M":-0.08,"pf":0.04,"pm":-0.03},
{"yr":2001,"a":11,"F":0.07,"M":-0.05,"pf":0.065,"pm":-0.055},
{"yr":2001,"a":12,"F":0.03,"M":-0.02,"pf":0.035,"pm":-0.03},
{"yr":2001,"a":13,"F":0.02,"M":-0.03,"pf":0.035,"pm":-0.03},
{"yr":2001,"a":14,"F":0.065,"M":-0.04,"pf":0.06,"pm":-0.05},
{"yr":2001,"a":15,"F":0.02,"M":-0.02,"pf":0.03,"pm":-0.025},
{"yr":2001,"a":16,"F":0.01,"M":-0.01,"pf":0.015,"pm":-0.015},
{"yr":2001,"a":17,"F":0.005,"M":-0.005,"pf":0.01,"pm":-0.01},
{"yr":2001,"a":18,"F":0.003,"M":-0.003,"pf":0.005,"pm":-0.005},
{"yr":2001,"a":19,"F":0.002,"M":-0.002,"pf":0.004,"pm":-0.003},
{"yr":2001,"a":20,"F":0.001,"M":-0.001,"pf":0.003,"pm":-0.002},
{"yr":2002,"a":1,"F":0,"M":0,"pf":0,"pm":0},
{"yr":2002,"a":2,"F":0.005,"M":-0.005,"pf":0.005,"pm":-0.005},
{"yr":2002,"a":3,"F":0.01,"M":-0.01,"pf":0.015,"pm":-0.015},
{"yr":2002,"a":4,"F":0.03,"M":-0.04,"pf":0.035,"pm":-0.04},
{"yr":2002,"a":5,"F":0.02,"M":-0.02,"pf":0.025,"pm":-0.02},
{"yr":2002,"a":6,"F":0.05,"M":-0.03,"pf":0.045,"pm":-0.045},
{"yr":2002,"a":7,"F":0.02,"M":-0.02,"pf":0.025,"pm":-0.025},
{"yr":2002,"a":8,"F":0.03,"M":-0.06,"pf":0.03,"pm":-0.03},
{"yr":2002,"a":9,"F":0.045,"M":-0.04,"pf":0.04,"pm":-0.04},
{"yr":2002,"a":10,"F":0.02,"M":-0.02,"pf":0.03,"pm":-0.025},
{"yr":2002,"a":11,"F":0.03,"M":-0.03,"pf":0.035,"pm":-0.03},
{"yr":2002,"a":12,"F":0.07,"M":-0.04,"pf":0.055,"pm":-0.05},
{"yr":2002,"a":13,"F":0.03,"M":-0.02,"pf":0.03,"pm":-0.025},
{"yr":2002,"a":14,"F":0.02,"M":-0.03,"pf":0.025,"pm":-0.025},
{"yr":2002,"a":15,"F":0.065,"M":-0.04,"pf":0.05,"pm":-0.045},
{"yr":2002,"a":16,"F":0.02,"M":-0.01,"pf":0.02,"pm":-0.02},
{"yr":2002,"a":17,"F":0.01,"M":-0.005,"pf":0.01,"pm":-0.01},
{"yr":2002,"a":18,"F":0.006,"M":-0.003,"pf":0.008,"pm":-0.006},
{"yr":2002,"a":19,"F":0.004,"M":-0.002,"pf":0.005,"pm":-0.004},
{"yr":2002,"a":20,"F":0.003,"M":-0.002,"pf":0.005,"pm":-0.003},
{"yr":2003,"a":1,"F":0,"M":0,"pf":0,"pm":0},
{"yr":2003,"a":2,"F":0.01,"M":-0.05,"pf":0.01,"pm":-0.01},
{"yr":2003,"a":3,"F":0.055,"M":-0.07,"pf":0.035,"pm":-0.035},
{"yr":2003,"a":4,"F":0.04,"M":-0.03,"pf":0.04,"pm":-0.03},
{"yr":2003,"a":5,"F":0.04,"M":-0.02,"pf":0.045,"pm":-0.025},
{"yr":2003,"a":6,"F":0.03,"M":-0.02,"pf":0.035,"pm":-0.02},
{"yr":2003,"a":7,"F":0.045,"M":-0.035,"pf":0.04,"pm":-0.03},
{"yr":2003,"a":8,"F":0.02,"M":-0.01,"pf":0.025,"pm":-0.02},
{"yr":2003,"a":9,"F":0.02,"M":-0.02,"pf":0.02,"pm":-0.02},
{"yr":2003,"a":10,"F":0.025,"M":-0.02,"pf":0.03,"pm":-0.025},
{"yr":2003,"a":11,"F":0.02,"M":-0.02,"pf":0.025,"pm":-0.02},
{"yr":2003,"a":12,"F":0.03,"M":-0.02,"pf":0.025,"pm":-0.02},
{"yr":2003,"a":13,"F":0.065,"M":-0.06,"pf":0.04,"pm":-0.035},
{"yr":2003,"a":14,"F":0.02,"M":-0.02,"pf":0.02,"pm":-0.02},
{"yr":2003,"a":15,"F":0.025,"M":-0.02,"pf":0.025,"pm":-0.02},
{"yr":2003,"a":16,"F":0.06,"M":-0.03,"pf":0.045,"pm":-0.035},
{"yr":2003,"a":17,"F":0.02,"M":-0.01,"pf":0.02,"pm":-0.02},
{"yr":2003,"a":18,"F":0.01,"M":-0.008,"pf":0.01,"pm":-0.01},
{"yr":2003,"a":19,"F":0.01,"M":-0.006,"pf":0.01,"pm":-0.01},
{"yr":2003,"a":20,"F":0.008,"M":-0.005,"pf":0.01,"pm":-0.01},
{"yr":2004,"a":1,"F":0,"M":0,"pf":0,"pm":0},
{"yr":2004,"a":2,"F":0.02,"M":-0.02,"pf":0.01,"pm":-0.01},
{"yr":2004,"a":3,"F":0.085,"M":-0.14,"pf":0.04,"pm":-0.06},
{"yr":2004,"a":4,"F":0.05,"M":-0.08,"pf":0.065,"pm":-0.085},
{"yr":2004,"a":5,"F":0.02,"M":-0.03,"pf":0.04,"pm":-0.05},
{"yr":2004,"a":6,"F":0.01,"M":-0.01,"pf":0.02,"pm":-0.02},
{"yr":2004,"a":7,"F":0.02,"M":-0.01,"pf":0.015,"pm":-0.01},
{"yr":2004,"a":8,"F":0.02,"M":-0.02,"pf":0.02,"pm":-0.015},
{"yr":2004,"a":9,"F":0.02,"M":-0.01,"pf":0.02,"pm":-0.015},
{"yr":2004,"a":10,"F":0.02,"M":-0.025,"pf":0.02,"pm":-0.01},
{"yr":2004,"a":11,"F":0.015,"M":-0.01,"pf":0.015,"pm":-0.015},
{"yr":2004,"a":12,"F":0.025,"M":-0.03,"pf":0.02,"pm":-0.015},
{"yr":2004,"a":13,"F":0.02,"M":-0.01,"pf":0.015,"pm":-0.01},
{"yr":2004,"a":14,"F":0.015,"M":-0.02,"pf":0.02,"pm":-0.015},
{"yr":2004,"a":15,"F":0.02,"M":-0.02,"pf":0.02,"pm":-0.015},
{"yr":2004,"a":16,"F":0.025,"M":-0.01,"pf":0.02,"pm":-0.01},
{"yr":2004,"a":17,"F":0.02,"M":-0.01,"pf":0.015,"pm":-0.015},
{"yr":2004,"a":18,"F":0.01,"M":-0.008,"pf":0.015,"pm":-0.01},
{"yr":2004,"a":19,"F":0.015,"M":-0.006,"pf":0.01,"pm":-0.01},
{"yr":2004,"a":20,"F":0.01,"M":-0.005,"pf":0.01,"pm":-0.008},
{"yr":2005,"a":1,"F":0,"M":0,"pf":0,"pm":0},
{"yr":2005,"a":2,"F":0.02,"M":-0.03,"pf":0.01,"pm":-0.02},
{"yr":2005,"a":3,"F":0.06,"M":-0.12,"pf":0.06,"pm":-0.08},
{"yr":2005,"a":4,"F":0.09,"M":-0.12,"pf":0.1,"pm":-0.12},
{"yr":2005,"a":5,"F":0.07,"M":-0.06,"pf":0.07,"pm":-0.07},
{"yr":2005,"a":6,"F":0.03,"M":-0.02,"pf":0.04,"pm":-0.035},
{"yr":2005,"a":7,"F":0.02,"M":-0.015,"pf":0.02,"pm":-0.02},
{"yr":2005,"a":8,"F":0.015,"M":-0.01,"pf":0.015,"pm":-0.015},
{"yr":2005,"a":9,"F":0.015,"M":-0.01,"pf":0.01,"pm":-0.01},
{"yr":2005,"a":10,"F":0.015,"M":-0.01,"pf":0.015,"pm":-0.01},
{"yr":2005,"a":11,"F":0.01,"M":-0.01,"pf":0.01,"pm":-0.01},
{"yr":2005,"a":12,"F":0.01,"M":-0.005,"pf":0.01,"pm":-0.01},
{"yr":2005,"a":13,"F":0.015,"M":-0.01,"pf":0.01,"pm":-0.01},
{"yr":2005,"a":14,"F":0.015,"M":-0.01,"pf":0.015,"pm":-0.01},
{"yr":2005,"a":15,"F":0.01,"M":-0.01,"pf":0.01,"pm":-0.01},
{"yr":2005,"a":16,"F":0.015,"M":-0.02,"pf":0.01,"pm":-0.01},
{"yr":2005,"a":17,"F":0.01,"M":-0.01,"pf":0.015,"pm":-0.01},
{"yr":2005,"a":18,"F":0.015,"M":-0.01,"pf":0.015,"pm":-0.01},
{"yr":2005,"a":19,"F":0.01,"M":-0.008,"pf":0.01,"pm":-0.01},
{"yr":2005,"a":20,"F":0.01,"M":-0.006,"pf":0.01,"pm":-0.01},
{"yr":2006,"a":1,"F":0,"M":0,"pf":0,"pm":0},
{"yr":2006,"a":2,"F":0.04,"M":-0.06,"pf":0.02,"pm":-0.02},
{"yr":2006,"a":3,"F":0.135,"M":-0.11,"pf":0.1,"pm":-0.08},
{"yr":2006,"a":4,"F":0.1,"M":-0.16,"pf":0.125,"pm":-0.14},
{"yr":2006,"a":5,"F":0.05,"M":-0.06,"pf":0.07,"pm":-0.07},
{"yr":2006,"a":6,"F":0.02,"M":-0.02,"pf":0.035,"pm":-0.03},
{"yr":2006,"a":7,"F":0.015,"M":-0.01,"pf":0.02,"pm":-0.02},
{"yr":2006,"a":8,"F":0.01,"M":-0.01,"pf":0.015,"pm":-0.015},
{"yr":2006,"a":9,"F":0.015,"M":-0.01,"pf":0.012,"pm":-0.01},
{"yr":2006,"a":10,"F":0.01,"M":-0.01,"pf":0.01,"pm":-0.01},
{"yr":2006,"a":11,"F":0.01,"M":-0.01,"pf":0.01,"pm":-0.01},
{"yr":2006,"a":12,"F":0.01,"M":-0.01,"pf":0.01,"pm":-0.01},
{"yr":2006,"a":13,"F":0.01,"M":-0.01,"pf":0.01,"pm":-0.01},
{"yr":2006,"a":14,"F":0.01,"M":-0.01,"pf":0.01,"pm":-0.01},
{"yr":2006,"a":15,"F":0.015,"M":-0.01,"pf":0.01,"pm":-0.01},
{"yr":2006,"a":16,"F":0.01,"M":-0.01,"pf":0.01,"pm":-0.01},
{"yr":2006,"a":17,"F":0.01,"M":-0.01,"pf":0.012,"pm":-0.01},
{"yr":2006,"a":18,"F":0.015,"M":-0.01,"pf":0.015,"pm":-0.01},
{"yr":2006,"a":19,"F":0.01,"M":-0.008,"pf":0.012,"pm":-0.01},
{"yr":2006,"a":20,"F":0.01,"M":-0.006,"pf":0.01,"pm":-0.01},
{"yr":2007,"a":1,"F":0,"M":0,"pf":0,"pm":0},
{"yr":2007,"a":2,"F":0.01,"M":-0.005,"pf":0.01,"pm":-0.01},
{"yr":2007,"a":3,"F":0.05,"M":-0.05,"pf":0.04,"pm":-0.04},
{"yr":2007,"a":4,"F":0.085,"M":-0.1,"pf":0.08,"pm":-0.09},
{"yr":2007,"a":5,"F":0.095,"M":-0.11,"pf":0.105,"pm":-0.115},
{"yr":2007,"a":6,"F":0.08,"M":-0.08,"pf":0.08,"pm":-0.08},
{"yr":2007,"a":7,"F":0.045,"M":-0.04,"pf":0.05,"pm":-0.04},
{"yr":2007,"a":8,"F":0.015,"M":-0.015,"pf":0.02,"pm":-0.02},
{"yr":2007,"a":9,"F":0.01,"M":-0.01,"pf":0.012,"pm":-0.01},
{"yr":2007,"a":10,"F":0.005,"M":-0.025,"pf":0.01,"pm":-0.01},
{"yr":2007,"a":11,"F":0.005,"M":-0.005,"pf":0.01,"pm":-0.01},
{"yr":2007,"a":12,"F":0.01,"M":-0.008,"pf":0.01,"pm":-0.008},
{"yr":2007,"a":13,"F":0.01,"M":-0.008,"pf":0.01,"pm":-0.008},
{"yr":2007,"a":14,"F":0.01,"M":-0.008,"pf":0.01,"pm":-0.008},
{"yr":2007,"a":15,"F":0.01,"M":-0.006,"pf":0.01,"pm":-0.006},
{"yr":2007,"a":16,"F":0.01,"M":-0.006,"pf":0.008,"pm":-0.006},
{"yr":2007,"a":17,"F":0.01,"M":-0.005,"pf":0.008,"pm":-0.005},
{"yr":2007,"a":18,"F":0.01,"M":-0.005,"pf":0.008,"pm":-0.005},
{"yr":2007,"a":19,"F":0.005,"M":-0.005,"pf":0.005,"pm":-0.005},
{"yr":2007,"a":20,"F":0.02,"M":-0.01,"pf":0.02,"pm":-0.012},
{"yr":2008,"a":1,"F":0,"M":0,"pf":0,"pm":0},
{"yr":2008,"a":2,"F":0.01,"M":-0.01,"pf":0.01,"pm":-0.01},
{"yr":2008,"a":3,"F":0.05,"M":-0.04,"pf":0.04,"pm":-0.04},
{"yr":2008,"a":4,"F":0.07,"M":-0.07,"pf":0.08,"pm":-0.07},
{"yr":2008,"a":5,"F":0.09,"M":-0.08,"pf":0.095,"pm":-0.095},
{"yr":2008,"a":6,"F":0.09,"M":-0.12,"pf":0.085,"pm":-0.105},
{"yr":2008,"a":7,"F":0.06,"M":-0.06,"pf":0.05,"pm":-0.07},
{"yr":2008,"a":8,"F":0.02,"M":-0.02,"pf":0.02,"pm":-0.02},
{"yr":2008,"a":9,"F":0.015,"M":-0.01,"pf":0.015,"pm":-0.012},
{"yr":2008,"a":10,"F":0.01,"M":-0.01,"pf":0.012,"pm":-0.01},
{"yr":2008,"a":11,"F":0.01,"M":-0.005,"pf":0.01,"pm":-0.008},
{"yr":2008,"a":12,"F":0.01,"M":-0.008,"pf":0.01,"pm":-0.008},
{"yr":2008,"a":13,"F":0.01,"M":-0.008,"pf":0.01,"pm":-0.008},
{"yr":2008,"a":14,"F":0.008,"M":-0.006,"pf":0.008,"pm":-0.006},
{"yr":2008,"a":15,"F":0.008,"M":-0.006,"pf":0.008,"pm":-0.006},
{"yr":2008,"a":16,"F":0.008,"M":-0.005,"pf":0.008,"pm":-0.005},
{"yr":2008,"a":17,"F":0.006,"M":-0.005,"pf":0.006,"pm":-0.005},
{"yr":2008,"a":18,"F":0.006,"M":-0.005,"pf":0.006,"pm":-0.005},
{"yr":2008,"a":19,"F":0.005,"M":-0.005,"pf":0.006,"pm":-0.005},
{"yr":2008,"a":20,"F":0.015,"M":-0.01,"pf":0.015,"pm":-0.012},
{"yr":2009,"a":1,"F":0,"M":0,"pf":0,"pm":0},
{"yr":2009,"a":2,"F":0.005,"M":-0.005,"pf":0.005,"pm":-0.005},
{"yr":2009,"a":3,"F":0.02,"M":-0.02,"pf":0.02,"pm":-0.03},
{"yr":2009,"a":4,"F":0.08,"M":-0.09,"pf":0.075,"pm":-0.085},
{"yr":2009,"a":5,"F":0.07,"M":-0.07,"pf":0.07,"pm":-0.07},
{"yr":2009,"a":6,"F":0.07,"M":-0.07,"pf":0.07,"pm":-0.065},
{"yr":2009,"a":7,"F":0.07,"M":-0.07,"pf":0.075,"pm":-0.075},
{"yr":2009,"a":8,"F":0.08,"M":-0.09,"pf":0.08,"pm":-0.085},
{"yr":2009,"a":9,"F":0.05,"M":-0.05,"pf":0.05,"pm":-0.05},
{"yr":2009,"a":10,"F":0.02,"M":-0.02,"pf":0.02,"pm":-0.02},
{"yr":2009,"a":11,"F":0.01,"M":-0.01,"pf":0.012,"pm":-0.01},
{"yr":2009,"a":12,"F":0.01,"M":-0.008,"pf":0.01,"pm":-0.008},
{"yr":2009,"a":13,"F":0.01,"M":-0.008,"pf":0.01,"pm":-0.008},
{"yr":2009,"a":14,"F":0.008,"M":-0.006,"pf":0.008,"pm":-0.006},
{"yr":2009,"a":15,"F":0.008,"M":-0.006,"pf":0.008,"pm":-0.006},
{"yr":2009,"a":16,"F":0.008,"M":-0.005,"pf":0.008,"pm":-0.005},
{"yr":2009,"a":17,"F":0.006,"M":-0.005,"pf":0.006,"pm":-0.005},
{"yr":2009,"a":18,"F":0.006,"M":-0.005,"pf":0.006,"pm":-0.005},
{"yr":2009,"a":19,"F":0.006,"M":-0.005,"pf":0.006,"pm":-0.006},
{"yr":2009,"a":20,"F":0.015,"M":-0.01,"pf":0.015,"pm":-0.015},
{"yr":2010,"a":1,"F":0,"M":0,"pf":0,"pm":0},
{"yr":2010,"a":2,"F":0.005,"M":-0.005,"pf":0.005,"pm":-0.005},
{"yr":2010,"a":3,"F":0.02,"M":-0.02,"pf":0.02,"pm":-0.02},
{"yr":2010,"a":4,"F":0.06,"M":-0.05,"pf":0.05,"pm":-0.05},
{"yr":2010,"a":5,"F":0.08,"M":-0.08,"pf":0.085,"pm":-0.09},
{"yr":2010,"a":6,"F":0.06,"M":-0.07,"pf":0.065,"pm":-0.07},
{"yr":2010,"a":7,"F":0.07,"M":-0.075,"pf":0.065,"pm":-0.07},
{"yr":2010,"a":8,"F":0.08,"M":-0.08,"pf":0.075,"pm":-0.075},
{"yr":2010,"a":9,"F":0.05,"M":-0.05,"pf":0.05,"pm":-0.05},
{"yr":2010,"a":10,"F":0.025,"M":-0.02,"pf":0.02,"pm":-0.025},
{"yr":2010,"a":11,"F":0.01,"M":-0.01,"pf":0.012,"pm":-0.015},
{"yr":2010,"a":12,"F":0.01,"M":-0.008,"pf":0.01,"pm":-0.01},
{"yr":2010,"a":13,"F":0.01,"M":-0.008,"pf":0.01,"pm":-0.008},
{"yr":2010,"a":14,"F":0.01,"M":-0.006,"pf":0.01,"pm":-0.008},
{"yr":2010,"a":15,"F":0.005,"M":-0.006,"pf":0.01,"pm":-0.006},
{"yr":2010,"a":16,"F":0.005,"M":-0.005,"pf":0.008,"pm":-0.006},
{"yr":2010,"a":17,"F":0.005,"M":-0.005,"pf":0.008,"pm":-0.005},
{"yr":2010,"a":18,"F":0.005,"M":-0.005,"pf":0.008,"pm":-0.005},
{"yr":2010,"a":19,"F":0.005,"M":-0.005,"pf":0.008,"pm":-0.006},
{"yr":2010,"a":20,"F":0.02,"M":-0.015,"pf":0.025,"pm":-0.02},
{"yr":2011,"a":1,"F":0,"M":0,"pf":0,"pm":0},
{"yr":2011,"a":2,"F":0.003,"M":-0.003,"pf":0.003,"pm":-0.003},
{"yr":2011,"a":3,"F":0.01,"M":-0.01,"pf":0.008,"pm":-0.008},
{"yr":2011,"a":4,"F":0.02,"M":-0.02,"pf":0.02,"pm":-0.02},
{"yr":2011,"a":5,"F":0.03,"M":-0.04,"pf":0.05,"pm":-0.05},
{"yr":2011,"a":6,"F":0.11,"M":-0.08,"pf":0.085,"pm":-0.09},
{"yr":2011,"a":7,"F":0.06,"M":-0.07,"pf":0.07,"pm":-0.07},
{"yr":2011,"a":8,"F":0.05,"M":-0.07,"pf":0.07,"pm":-0.07},
{"yr":2011,"a":9,"F":0.07,"M":-0.08,"pf":0.065,"pm":-0.075},
{"yr":2011,"a":10,"F":0.04,"M":-0.04,"pf":0.035,"pm":-0.04},
{"yr":2011,"a":11,"F":0.01,"M":-0.01,"pf":0.015,"pm":-0.015},
{"yr":2011,"a":12,"F":0.01,"M":-0.008,"pf":0.01,"pm":-0.01},
{"yr":2011,"a":13,"F":0.008,"M":-0.006,"pf":0.008,"pm":-0.008},
{"yr":2011,"a":14,"F":0.008,"M":-0.006,"pf":0.008,"pm":-0.008},
{"yr":2011,"a":15,"F":0.008,"M":-0.006,"pf":0.008,"pm":-0.006},
{"yr":2011,"a":16,"F":0.006,"M":-0.005,"pf":0.008,"pm":-0.006},
{"yr":2011,"a":17,"F":0.006,"M":-0.005,"pf":0.006,"pm":-0.005},
{"yr":2011,"a":18,"F":0.006,"M":-0.005,"pf":0.006,"pm":-0.005},
{"yr":2011,"a":19,"F":0.006,"M":-0.005,"pf":0.008,"pm":-0.006},
{"yr":2011,"a":20,"F":0.02,"M":-0.015,"pf":0.025,"pm":-0.02},
{"yr":2012,"a":1,"F":0,"M":0,"pf":0,"pm":0},
{"yr":2012,"a":2,"F":0.003,"M":-0.003,"pf":0.003,"pm":-0.003},
{"yr":2012,"a":3,"F":0.005,"M":-0.005,"pf":0.005,"pm":-0.005},
{"yr":2012,"a":4,"F":0.01,"M":-0.01,"pf":0.01,"pm":-0.01},
{"yr":2012,"a":5,"F":0.02,"M":-0.04,"pf":0.025,"pm":-0.02},
{"yr":2012,"a":6,"F":0.04,"M":-0.06,"pf":0.055,"pm":-0.05},
{"yr":2012,"a":7,"F":0.07,"M":-0.08,"pf":0.09,"pm":-0.09},
{"yr":2012,"a":8,"F":0.06,"M":-0.06,"pf":0.075,"pm":-0.07},
{"yr":2012,"a":9,"F":0.09,"M":-0.04,"pf":0.075,"pm":-0.07},
{"yr":2012,"a":10,"F":0.07,"M":-0.06,"pf":0.065,"pm":-0.065},
{"yr":2012,"a":11,"F":0.03,"M":-0.03,"pf":0.035,"pm":-0.035},
{"yr":2012,"a":12,"F":0.01,"M":-0.01,"pf":0.012,"pm":-0.012},
{"yr":2012,"a":13,"F":0.01,"M":-0.008,"pf":0.01,"pm":-0.008},
{"yr":2012,"a":14,"F":0.008,"M":-0.006,"pf":0.008,"pm":-0.008},
{"yr":2012,"a":15,"F":0.008,"M":-0.006,"pf":0.008,"pm":-0.006},
{"yr":2012,"a":16,"F":0.006,"M":-0.025,"pf":0.008,"pm":-0.006},
{"yr":2012,"a":17,"F":0.006,"M":-0.005,"pf":0.006,"pm":-0.005},
{"yr":2012,"a":18,"F":0.006,"M":-0.005,"pf":0.006,"pm":-0.005},
{"yr":2012,"a":19,"F":0.006,"M":-0.005,"pf":0.008,"pm":-0.006},
{"yr":2012,"a":20,"F":0.02,"M":-0.015,"pf":0.025,"pm":-0.02},
{"yr":2013,"a":1,"F":0,"M":0,"pf":0,"pm":0},
{"yr":2013,"a":2,"F":0.003,"M":-0.003,"pf":0.003,"pm":-0.003},
{"yr":2013,"a":3,"F":0.005,"M":-0.005,"pf":0.005,"pm":-0.005},
{"yr":2013,"a":4,"F":0.005,"M":-0.02,"pf":0.008,"pm":-0.01},
{"yr":2013,"a":5,"F":0.01,"M":-0.01,"pf":0.012,"pm":-0.015},
{"yr":2013,"a":6,"F":0.02,"M":-0.03,"pf":0.025,"pm":-0.03},
{"yr":2013,"a":7,"F":0.05,"M":-0.06,"pf":0.055,"pm":-0.06},
{"yr":2013,"a":8,"F":0.08,"M":-0.08,"pf":0.09,"pm":-0.09},
{"yr":2013,"a":9,"F":0.07,"M":-0.07,"pf":0.075,"pm":-0.075},
{"yr":2013,"a":10,"F":0.065,"M":-0.07,"pf":0.07,"pm":-0.075},
{"yr":2013,"a":11,"F":0.065,"M":-0.06,"pf":0.07,"pm":-0.065},
{"yr":2013,"a":12,"F":0.04,"M":-0.03,"pf":0.04,"pm":-0.035},
{"yr":2013,"a":13,"F":0.015,"M":-0.01,"pf":0.015,"pm":-0.015},
{"yr":2013,"a":14,"F":0.01,"M":-0.008,"pf":0.01,"pm":-0.008},
{"yr":2013,"a":15,"F":0.008,"M":-0.006,"pf":0.008,"pm":-0.006},
{"yr":2013,"a":16,"F":0.006,"M":-0.005,"pf":0.008,"pm":-0.006},
{"yr":2013,"a":17,"F":0.006,"M":-0.005,"pf":0.006,"pm":-0.005},
{"yr":2013,"a":18,"F":0.006,"M":-0.005,"pf":0.006,"pm":-0.005},
{"yr":2013,"a":19,"F":0.006,"M":-0.005,"pf":0.008,"pm":-0.006},
{"yr":2013,"a":20,"F":0.02,"M":-0.015,"pf":0.025,"pm":-0.02},
{"yr":2014,"a":1,"F":0,"M":0,"pf":0,"pm":0},
{"yr":2014,"a":2,"F":0.005,"M":-0.005,"pf":0.005,"pm":-0.005},
{"yr":2014,"a":3,"F":0.01,"M":-0.02,"pf":0.01,"pm":-0.02},
{"yr":2014,"a":4,"F":0.02,"M":-0.025,"pf":0.015,"pm":-0.02},
{"yr":2014,"a":5,"F":0.01,"M":-0.01,"pf":0.01,"pm":-0.01},
{"yr":2014,"a":6,"F":0.01,"M":-0.01,"pf":0.01,"pm":-0.01},
{"yr":2014,"a":7,"F":0.015,"M":-0.01,"pf":0.02,"pm":-0.02},
{"yr":2014,"a":8,"F":0.03,"M":-0.03,"pf":0.04,"pm":-0.045},
{"yr":2014,"a":9,"F":0.07,"M":-0.05,"pf":0.08,"pm":-0.085},
{"yr":2014,"a":10,"F":0.055,"M":-0.06,"pf":0.06,"pm":-0.06},
{"yr":2014,"a":11,"F":0.06,"M":-0.07,"pf":0.06,"pm":-0.055},
{"yr":2014,"a":12,"F":0.12,"M":-0.08,"pf":0.065,"pm":-0.06},
{"yr":2014,"a":13,"F":0.045,"M":-0.07,"pf":0.035,"pm":-0.04},
{"yr":2014,"a":14,"F":0.01,"M":-0.02,"pf":0.012,"pm":-0.015},
{"yr":2014,"a":15,"F":0.01,"M":-0.01,"pf":0.01,"pm":-0.01},
{"yr":2014,"a":16,"F":0.02,"M":-0.008,"pf":0.01,"pm":-0.008},
{"yr":2014,"a":17,"F":0.01,"M":-0.006,"pf":0.008,"pm":-0.006},
{"yr":2014,"a":18,"F":0.005,"M":-0.005,"pf":0.008,"pm":-0.006},
{"yr":2014,"a":19,"F":0.005,"M":-0.005,"pf":0.008,"pm":-0.008},
{"yr":2014,"a":20,"F":0.02,"M":-0.02,"pf":0.02,"pm":-0.03},
{"yr":2015,"a":1,"F":0,"M":0,"pf":0,"pm":0},
{"yr":2015,"a":2,"F":0.005,"M":-0.005,"pf":0.005,"pm":-0.005},
{"yr":2015,"a":3,"F":0.02,"M":-0.03,"pf":0.015,"pm":-0.02},
{"yr":2015,"a":4,"F":0.025,"M":-0.04,"pf":0.02,"pm":-0.03},
{"yr":2015,"a":5,"F":0.02,"M":-0.02,"pf":0.015,"pm":-0.02},
{"yr":2015,"a":6,"F":0.01,"M":-0.01,"pf":0.01,"pm":-0.01},
{"yr":2015,"a":7,"F":0.01,"M":-0.01,"pf":0.01,"pm":-0.01},
{"yr":2015,"a":8,"F":0.02,"M":-0.02,"pf":0.02,"pm":-0.02},
{"yr":2015,"a":9,"F":0.03,"M":-0.03,"pf":0.04,"pm":-0.04},
{"yr":2015,"a":10,"F":0.07,"M":-0.115,"pf":0.08,"pm":-0.075},
{"yr":2015,"a":11,"F":0.06,"M":-0.05,"pf":0.065,"pm":-0.055},
{"yr":2015,"a":12,"F":0.06,"M":-0.05,"pf":0.06,"pm":-0.05},
{"yr":2015,"a":13,"F":0.06,"M":-0.04,"pf":0.055,"pm":-0.045},
{"yr":2015,"a":14,"F":0.04,"M":-0.03,"pf":0.04,"pm":-0.035},
{"yr":2015,"a":15,"F":0.02,"M":-0.015,"pf":0.02,"pm":-0.02},
{"yr":2015,"a":16,"F":0.01,"M":-0.008,"pf":0.012,"pm":-0.01},
{"yr":2015,"a":17,"F":0.008,"M":-0.006,"pf":0.01,"pm":-0.008},
{"yr":2015,"a":18,"F":0.006,"M":-0.005,"pf":0.01,"pm":-0.006},
{"yr":2015,"a":19,"F":0.006,"M":-0.005,"pf":0.01,"pm":-0.008},
{"yr":2015,"a":20,"F":0.02,"M":-0.015,"pf":0.025,"pm":-0.02},
{"yr":2016,"a":1,"F":0,"M":0,"pf":0,"pm":0},
{"yr":2016,"a":2,"F":0.015,"M":-0.02,"pf":0.01,"pm":-0.01},
{"yr":2016,"a":3,"F":0.02,"M":-0.02,"pf":0.02,"pm":-0.02},
{"yr":2016,"a":4,"F":0.03,"M":-0.05,"pf":0.035,"pm":-0.04},
{"yr":2016,"a":5,"F":0.04,"M":-0.05,"pf":0.04,"pm":-0.05},
{"yr":2016,"a":6,"F":0.03,"M":-0.02,"pf":0.03,"pm":-0.035},
{"yr":2016,"a":7,"F":0.01,"M":-0.01,"pf":0.015,"pm":-0.02},
{"yr":2016,"a":8,"F":0.01,"M":-0.01,"pf":0.01,"pm":-0.012},
{"yr":2016,"a":9,"F":0.01,"M":-0.01,"pf":0.01,"pm":-0.01},
{"yr":2016,"a":10,"F":0.02,"M":-0.02,"pf":0.02,"pm":-0.02},
{"yr":2016,"a":11,"F":0.06,"M":-0.07,"pf":0.065,"pm":-0.065},
{"yr":2016,"a":12,"F":0.055,"M":-0.065,"pf":0.05,"pm":-0.055},
{"yr":2016,"a":13,"F":0.06,"M":-0.06,"pf":0.055,"pm":-0.05},
{"yr":2016,"a":14,"F":0.05,"M":-0.05,"pf":0.05,"pm":-0.04},
{"yr":2016,"a":15,"F":0.04,"M":-0.02,"pf":0.035,"pm":-0.03},
{"yr":2016,"a":16,"F":0.02,"M":-0.01,"pf":0.02,"pm":-0.015},
{"yr":2016,"a":17,"F":0.01,"M":-0.008,"pf":0.012,"pm":-0.01},
{"yr":2016,"a":18,"F":0.008,"M":-0.006,"pf":0.01,"pm":-0.01},
{"yr":2016,"a":19,"F":0.006,"M":-0.005,"pf":0.01,"pm":-0.01},
{"yr":2016,"a":20,"F":0.02,"M":-0.015,"pf":0.02,"pm":-0.02},
{"yr":2017,"a":1,"F":0,"M":0,"pf":0,"pm":0},
{"yr":2017,"a":2,"F":0.045,"M":-0.08,"pf":0.03,"pm":-0.03},
{"yr":2017,"a":3,"F":0.1,"M":-0.14,"pf":0.105,"pm":-0.14},
{"yr":2017,"a":4,"F":0.03,"M":-0.04,"pf":0.01,"pm":-0.02},
{"yr":2017,"a":5,"F":0.03,"M":-0.03,"pf":0.03,"pm":-0.03},
{"yr":2017,"a":6,"F":0.02,"M":-0.02,"pf":0.025,"pm":-0.03},
{"yr":2017,"a":7,"F":0.02,"M":-0.02,"pf":0.02,"pm":-0.025},
{"yr":2017,"a":8,"F":0.01,"M":-0.015,"pf":0.015,"pm":-0.02},
{"yr":2017,"a":9,"F":0.01,"M":-0.015,"pf":0.015,"pm":-0.02},
{"yr":2017,"a":10,"F":0.02,"M":-0.02,"pf":0.02,"pm":-0.02},
{"yr":2017,"a":11,"F":0.03,"M":-0.03,"pf":0.03,"pm":-0.025},
{"yr":2017,"a":12,"F":0.06,"M":-0.04,"pf":0.045,"pm":-0.04},
{"yr":2017,"a":13,"F":0.04,"M":-0.04,"pf":0.04,"pm":-0.035},
{"yr":2017,"a":14,"F":0.04,"M":-0.03,"pf":0.035,"pm":-0.03},
{"yr":2017,"a":15,"F":0.045,"M":-0.02,"pf":0.035,"pm":-0.03},
{"yr":2017,"a":16,"F":0.02,"M":-0.01,"pf":0.025,"pm":-0.02},
{"yr":2017,"a":17,"F":0.015,"M":-0.008,"pf":0.015,"pm":-0.015},
{"yr":2017,"a":18,"F":0.01,"M":-0.006,"pf":0.01,"pm":-0.01},
{"yr":2017,"a":19,"F":0.008,"M":-0.005,"pf":0.01,"pm":-0.01},
{"yr":2017,"a":20,"F":0.015,"M":-0.01,"pf":0.02,"pm":-0.02}
]},
"columns":7,
"spacing":{"column":7,"row":8},
"facet":{"field":"yr","type":"ordinal","title":"Age (yrs)","header":{"labels":false,"labelExpr":"''","labelFontSize":1,"labelPadding":0,"titleOrient":"bottom","titleFontSize":23,"titleFontWeight":"normal","titleColor":"#000000","titlePadding":71}},
"spec":{
"width":149,"height":88,
"layer":[
{"transform":[{"filter":"datum.a == 1"}],"mark":{"type":"rule","color":"#C8C8C8","strokeDash":[4,4],"strokeWidth":0.7},"encoding":{"y":{"datum":0.15,"type":"quantitative"}}},
{"transform":[{"filter":"datum.a == 1"}],"mark":{"type":"rule","color":"#C8C8C8","strokeDash":[4,4],"strokeWidth":0.7},"encoding":{"y":{"datum":0.05,"type":"quantitative"}}},
{"transform":[{"filter":"datum.a == 1"}],"mark":{"type":"rule","color":"#C8C8C8","strokeDash":[4,4],"strokeWidth":0.7},"encoding":{"y":{"datum":-0.05,"type":"quantitative"}}},
{"transform":[{"filter":"datum.a == 1"}],"mark":{"type":"rule","color":"#C8C8C8","strokeDash":[4,4],"strokeWidth":0.7},"encoding":{"y":{"datum":-0.15,"type":"quantitative"}}},
{"transform":[{"fold":["F","M"],"as":["sex","v"]}],
 "mark":{"type":"bar","width":6.4},
 "encoding":{
  "x":{"field":"a","type":"quantitative","title":null,"scale":{"domain":[0.5,20.6],"nice":false,"zero":false},"axis":null},
  "y":{"field":"v","type":"quantitative","title":null,"scale":{"domain":[-0.186,0.316],"nice":false,"zero":false},
       "axis":{"values":[-0.1,0,0.1],"labelExpr":"datum.value < 0 ? '-' + format(-datum.value, '.1f') : format(datum.value, '.1f')","domain":false,"grid":false,"tickColor":"#333333","tickSize":4,"labelColor":"#4D4D4D","labelFontSize":15,"labelPadding":2}},
  "color":{"field":"sex","type":"nominal","title":"sex","scale":{"domain":["F","M"],"range":["#FBBAB6","#80DFE2"]},
       "legend":{"orient":"none","legendX":1105,"legendY":266,"labelExpr":"datum.label == 'F' ? 'Females' : 'Males'","titleFontSize":18,"titleFontWeight":"normal","titleColor":"#000000","labelFontSize":15,"labelColor":"#1A1A1A","symbolType":"square","symbolSize":320,"symbolStrokeWidth":0,"rowPadding":1,"titlePadding":10,"labelOffset":10}}
 }},
{"mark":{"type":"line","color":"#F8766D","strokeWidth":1},"encoding":{"x":{"field":"a","type":"quantitative","title":null,"axis":null},"y":{"field":"pf","type":"quantitative","title":null}}},
{"mark":{"type":"line","color":"#00BFC4","strokeWidth":1},"encoding":{"x":{"field":"a","type":"quantitative","title":null,"axis":null},"y":{"field":"pm","type":"quantitative","title":null}}},
{"transform":[{"filter":"datum.a == 1"}],"mark":{"type":"rect","fillOpacity":0,"stroke":"#333333","strokeWidth":1.1},"encoding":{"x":{"datum":0.5,"type":"quantitative","axis":null},"x2":{"datum":20.6},"y":{"datum":-0.186,"type":"quantitative"},"y2":{"datum":0.173}}},
{"transform":[{"filter":"datum.a == 1"}],"mark":{"type":"rect","fill":"#D9D9D9","stroke":null},"encoding":{"x":{"datum":0.5,"type":"quantitative","axis":null},"x2":{"datum":20.6},"y":{"datum":0.179,"type":"quantitative"},"y2":{"datum":0.316}}},
{"transform":[{"filter":"datum.a == 1"}],"mark":{"type":"text","fontSize":15.5,"color":"#1A1A1A","baseline":"middle","align":"center"},"encoding":{"x":{"datum":10.55,"type":"quantitative","axis":null},"y":{"datum":0.2475,"type":"quantitative"},"text":{"field":"yr","type":"nominal"}}},
{"transform":[{"filter":"datum.yr >= 2011 && datum.a % 5 == 0"}],"mark":{"type":"rule","color":"#333333","strokeWidth":1},"encoding":{"x":{"field":"a","type":"quantitative","axis":null},"y":{"datum":-0.188,"type":"quantitative"},"y2":{"datum":-0.207}}},
{"transform":[{"filter":"datum.yr >= 2011 && datum.a % 5 == 0"}],"mark":{"type":"text","angle":315,"align":"right","baseline":"middle","fontSize":13,"color":"#4D4D4D"},"encoding":{"x":{"field":"a","type":"quantitative","axis":null},"y":{"datum":-0.222,"type":"quantitative"},"text":{"field":"a","type":"nominal"}}}
]},
"config":{"font":"Liberation Sans","view":{"stroke":null},"axis":{"grid":false}}
}
